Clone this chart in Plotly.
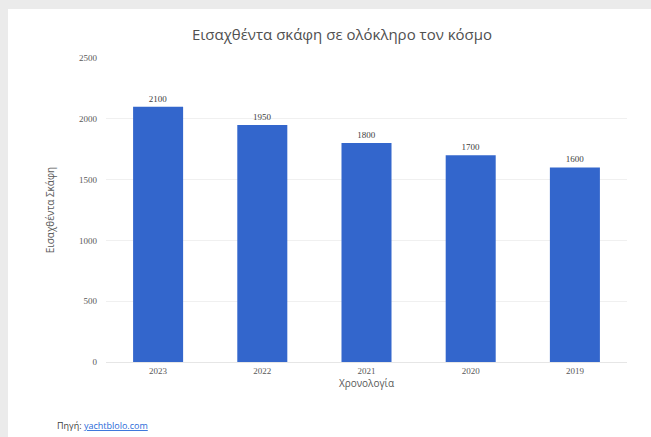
import plotly.graph_objects as go

years = ["2023", "2022", "2021", "2020", "2019"]
imported_boats = [2100, 1950, 1800, 1700, 1600]
y_ticks = [0, 500, 1000, 1500, 2000, 2500]

W, H = 651, 437
ML, MR, MT, MB = 106, 24, 58, 75
pw, ph = W - ML - MR, H - MT - MB

def px_x(x):
    return (x - ML) / pw

def px_y(y):
    return (H - MB - y) / ph

fig = go.Figure()
fig.add_trace(go.Bar(
    x=years, y=imported_boats,
    marker=dict(color="#3366cc", line=dict(width=0)),
    text=[str(v) for v in imported_boats],
    textposition="outside",
    textfont=dict(size=9, color="#404040", family="Liberation Serif"),
    cliponaxis=False,
    hoverinfo="skip",
))

fig.update_layout(
    width=W, height=H,
    margin=dict(l=ML, r=MR, t=MT, b=MB),
    paper_bgcolor="#ebebeb",
    plot_bgcolor="white",
    showlegend=False,
    bargap=0.52,
    font=dict(family="Open Sans", color="#595959"),
    title=dict(text="Εισαχθέντα σκάφη σε ολόκληρο τον κόσμο",
               x=342 / W, xref="container", xanchor="center",
               y=1 - 35 / H, yref="container", yanchor="middle",
               font=dict(size=15, color="#505050", family="Open Sans")),
    xaxis=dict(showgrid=False, showline=True, linecolor="#e6e6e6", linewidth=1,
               ticks="", tickfont=dict(size=9, color="#595959", family="Liberation Serif"),
               title=dict(text="Χρονολογία", font=dict(size=10, color="#595959"), standoff=4)),
    yaxis=dict(range=[0, 2500], tickvals=y_ticks, showgrid=True, gridcolor="#f0f0f0",
               gridwidth=1, zeroline=False, showline=False, ticks="",
               tickfont=dict(size=9, color="#595959", family="Liberation Serif"),
               ticklabelstandoff=8,
               title=dict(text="Εισαχθέντα Σκάφη", font=dict(size=10, color="#595959"), standoff=22)),
    shapes=[dict(type="rect", xref="paper", yref="paper",
                 x0=px_x(8), x1=px_x(W + 5), y0=px_y(H + 5), y1=px_y(9),
                 fillcolor="white", line=dict(width=0), layer="below")],
    annotations=[dict(xref="paper", yref="paper", x=px_x(55), y=px_y(425),
                      xanchor="left", yanchor="middle", showarrow=False,
                      text="Πηγή: <span style='color:#2a6ad8'><u>yachtblolo.com</u></span>",
                      font=dict(size=9, color="#404040", family="Open Sans"))],
)

fig.write_html("out.html",
               config={"displayModeBar": False},
               post_script="document.body.style.margin='0';document.body.style.overflow='hidden';document.body.style.background='#ebebeb';")
